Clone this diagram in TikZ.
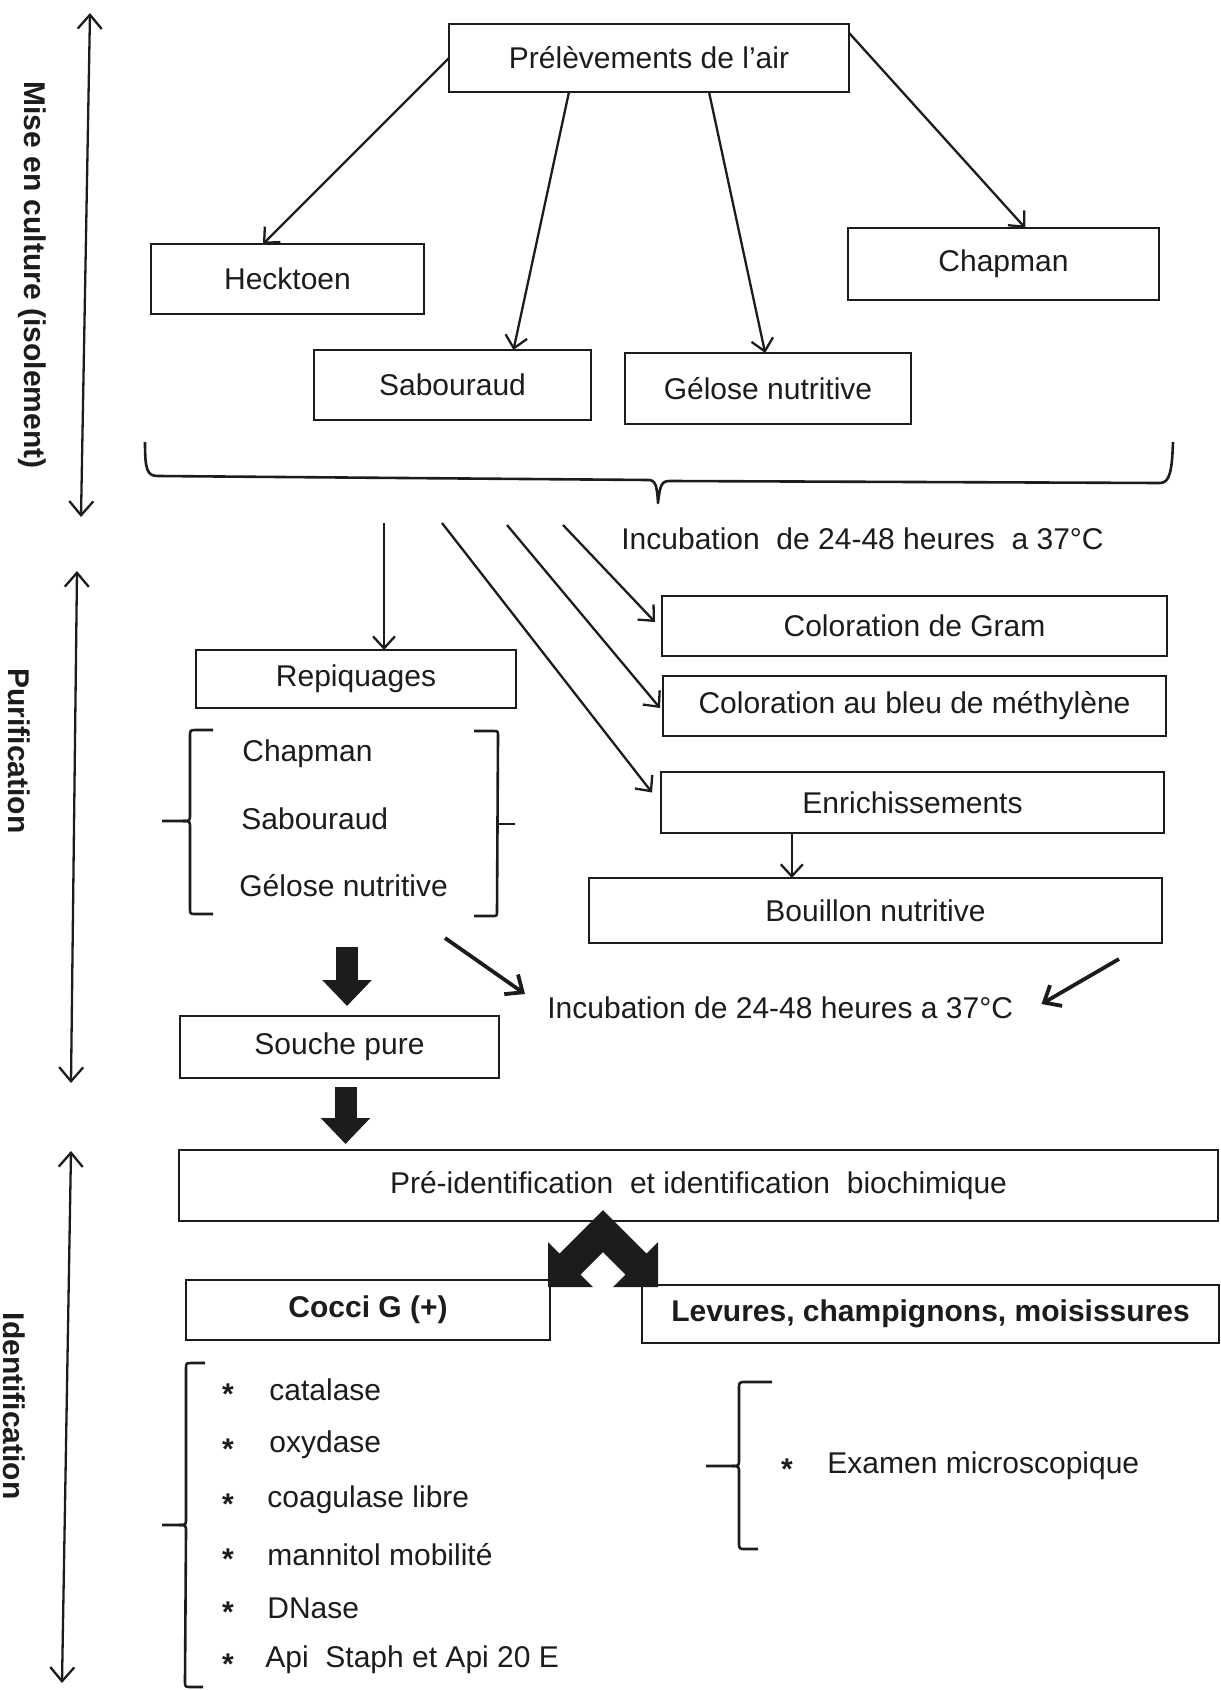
\documentclass[tikz,border=0pt]{standalone}
\usepackage{fontspec}
\setmainfont{Liberation Sans}
\usetikzlibrary{arrows.meta,calc}
\definecolor{ink}{RGB}{28,28,28}
\begin{document}
\begin{tikzpicture}[x=0.5pt,y=-0.5pt,
  every node/.style={text=ink, font=\fontsize{15}{18}\selectfont},
  box/.style={draw=ink, line width=1.4pt, inner sep=0pt, outer sep=0pt},
  bbox/.style={box, font=\bfseries\fontsize{15}{18}\selectfont},
  lbl/.style={inner sep=0pt},
  star/.style={inner sep=0pt, font=\bfseries\fontsize{15}{18}\selectfont},
  side/.style={font=\bfseries\fontsize{15}{18}\selectfont, rotate=-90, inner sep=0pt},
  con/.style={draw=ink, line width=1.15pt, -{Straight Barb[length=6pt,width=11pt]}},
  dbl/.style={draw=ink, line width=1.15pt, {Straight Barb[length=7pt,width=12pt]}-{Straight Barb[length=7pt,width=12pt]}},
  heavy/.style={draw=ink, line width=1.9pt, -{Straight Barb[length=7pt,width=12pt]}},
  brk/.style={draw=ink, line width=1.3pt, line join=round},
  blkarr/.style={draw=ink, line width=11pt, -{Triangle[length=13pt,width=24pt]}},
]
\useasboundingbox (0,0) rectangle (1220,1690);

% side labels and arrows
\node[side] (lab1) at (32,275) {Mise en culture (isolement)};
\node[side] (lab2) at (19,751) {Purification};
\node[side] (lab3) at (14,1406) {Identification};
\coordinate (a1t) at (90,13);  \coordinate (a1b) at (81,517);
\coordinate (a2t) at (77,571); \coordinate (a2b) at (71,1083);
\coordinate (a3t) at (71,1151); \coordinate (a3b) at (62,1683);
\draw[dbl] (a1t) -- (a1b);
\draw[dbl] (a2t) -- (a2b);
\draw[dbl] (a3t) -- (a3b);

% mise en culture
\node[box, minimum width=200pt, minimum height=34pt] (top) at (649,58) {Prélèvements de l'air};
\node[box, minimum width=136.5pt, minimum height=35pt] (heck) at (287.5,279) {Hecktoen};
\node[box, minimum width=138.5pt, minimum height=35pt] (sab) at (452.5,385) {Sabouraud};
\node[box, minimum width=143pt, minimum height=35.5pt] (gel) at (768,388.5) {Gélose nutritive};
\node[box, minimum width=155.5pt, minimum height=36pt] (chap) at (1003.5,264) {Chapman};

\draw[con] (top.west) -- ($(heck.north west)!0.41!(heck.north east)$);
\draw[con] ($(top.south west)!0.30!(top.south east)$) -- ($(sab.north west)!0.72!(sab.north east)$);
\draw[con] ($(top.south west)!0.65!(top.south east)$) -- ($(gel.north west)!0.49!(gel.north east)$);
\draw[con] ($(top.north east)!0.13!(top.south east)$) -- ($(chap.north west)!0.57!(chap.north east)$);

% brace
\draw[brk] (145,442) .. controls (145,470) and (147,476) .. (158,476) -- (648,480)
  .. controls (655,480) and (657,484) .. (658,503)
  .. controls (660,484) and (662,481) .. (670,481) -- (1160,483)
  .. controls (1170,483) and (1172,470) .. (1173,442);

\node[lbl, anchor=west] (inc1) at (621,539) {Incubation\ \ de 24-48 heures\ \ a 37°C};

% purification
\node[box, minimum width=160pt, minimum height=29pt] (repi) at (356,679) {Repiquages};
\node[box, minimum width=252.5pt, minimum height=30pt] (gram) at (914.5,626) {Coloration de Gram};
\node[box, minimum width=251.5pt, minimum height=30pt] (bleu) at (914.5,706) {Coloration au bleu de méthylène};
\node[box, minimum width=251.5pt, minimum height=30.5pt] (enr) at (912.5,802.5) {Enrichissements};
\node[box, minimum width=286.5pt, minimum height=32.5pt] (bouil) at (875.5,910.5) {Bouillon nutritive};

\coordinate (d0) at (384,523);
\coordinate (d1) at (442,523);
\coordinate (d2) at (507,525);
\coordinate (d3) at (563,525);
\draw[con] (d0) -- (d0 |- repi.north);
\draw[con] (d1) -- ($(enr.west)+(-9,-10)$);
\draw[con] (d2) -- ($(bleu.west)+(-3,2)$);
\draw[con] (d3) -- ($(gram.west)+(-7,-4)$);
\path ($(enr.south west)!0.26!(enr.south east)$) coordinate (eb);
\draw[con] (eb) -- (eb |- bouil.north);

% media list
\draw[brk] (213,730) -- (196,730) .. controls (190,730) .. (190,737) -- (190,814)
  .. controls (190,821) .. (183,821) -- (162,821);
\draw[brk] (183,821) .. controls (190,821) .. (190,828) -- (190,908)
  .. controls (190,914) .. (196,914) -- (213,914);
\draw[brk] (474,731) -- (493,731) .. controls (498,731) .. (498,736) -- (497,911)
  .. controls (497,916) .. (492,916) -- (474,916);
\draw[brk] (497,824) -- (515,824);
\node[lbl, anchor=west] (m1) at (242,754) {Chapman};
\node[lbl, anchor=west] (m2) at (241,819) {Sabouraud};
\node[lbl, anchor=west] (m3) at (239,886) {Gélose nutritive};

\node[box, minimum width=159.5pt, minimum height=31pt] (souche) at (339.5,1047) {Souche pure};
\coordinate (t1) at (347,947);
\draw[blkarr] (t1) -- ($(souche.north)+(7.5,-10)$);
\draw[blkarr] ($(souche.south)+(6,9)$) -- ($(souche.south |- 0,1150)+(6,-6)$);

\node[lbl, anchor=west] (inc2) at (547,1008) {Incubation de 24-48 heures a 37°C};
\coordinate (i2s) at (445,938);
\coordinate (i2r) at (1119,959);
\draw[heavy] (i2s) -- ($(inc2.west)+(-22,-14)$);
\draw[heavy] (i2r) -- ($(inc2.east)+(28,-4)$);

% identification
\node[box, minimum width=519.5pt, minimum height=35.5pt] (preid) at (698.5,1185.5) {Pré-identification\ \ et identification\ \ biochimique};
\node[bbox, minimum width=182pt, minimum height=30pt] (cocci) at (368,1310) {Cocci G (+)};
\node[bbox, minimum width=288.5pt, minimum height=29pt] (lev) at (930.5,1314) {Levures, champignons, moisissures};

\fill[ink] (603,1210) -- (646.5,1253.5) -- (658,1242) -- (658,1287) -- (613,1287)
  -- (625.5,1274.5) -- (603,1252) -- (580.5,1274.5) -- (593,1287) -- (548,1287)
  -- (548,1242) -- (559.5,1253.5) -- cycle;

\draw[brk] (205,1363) -- (192,1363) .. controls (186,1363) .. (186,1369) -- (186,1518)
  .. controls (186,1525) .. (179,1525) -- (162,1525);
\draw[brk] (179,1525) .. controls (186,1525) .. (186,1532) -- (185,1681)
  .. controls (185,1687) .. (191,1687) -- (203,1687);

\node[star] (s1) at (228,1394) {*};
\node[star] (s2) at (228,1449) {*};
\node[star] (s3) at (228,1504) {*};
\node[star] (s4) at (228,1559) {*};
\node[star] (s5) at (228,1612) {*};
\node[star] (s6) at (228,1664) {*};
\node[lbl, anchor=west] (l1) at (269,1390) {catalase};
\node[lbl, anchor=west] (l2) at (269,1445) {oxydase};
\node[lbl, anchor=west] (l3) at (267,1500) {coagulase libre};
\node[lbl, anchor=west] (l4) at (267,1555) {mannitol mobilité};
\node[lbl, anchor=west] (l5) at (267,1608) {DNase};
\node[lbl, anchor=west] (l6) at (265,1660) {Api\ \ Staph et Api 20 E};

\draw[brk] (772,1382) -- (746,1382) .. controls (739,1382) .. (739,1389) -- (739,1459)
  .. controls (739,1466) .. (732,1466) -- (706,1466);
\draw[brk] (732,1466) .. controls (739,1466) .. (739,1473) -- (739,1542)
  .. controls (739,1549) .. (746,1549) -- (758,1549);
\node[star] (s7) at (787,1469) {*};
\node[lbl, anchor=west] (exam) at (827,1466) {Examen microscopique};
\end{tikzpicture}
\end{document}
